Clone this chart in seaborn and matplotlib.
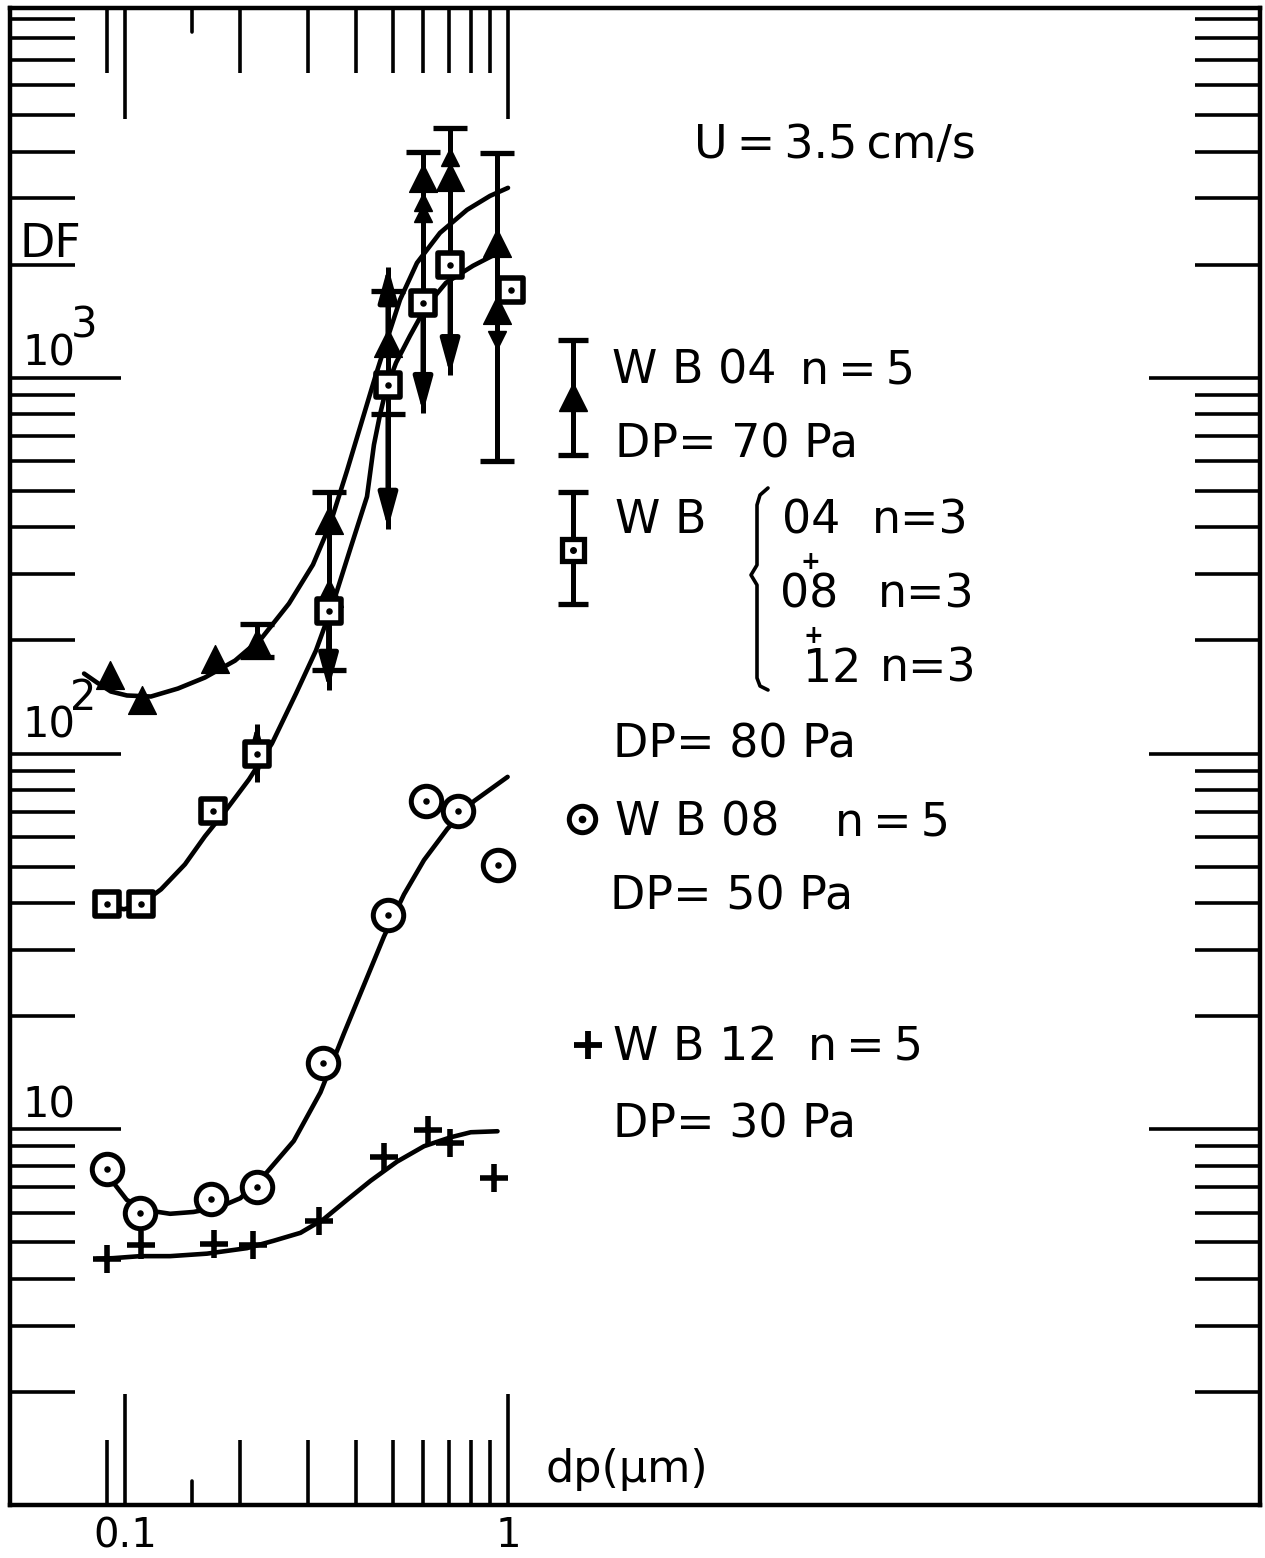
import matplotlib
matplotlib.use("Agg")
import matplotlib.pyplot as plt
import matplotlib.transforms as mtransforms
from matplotlib.ticker import FixedLocator, FixedFormatter, NullFormatter
import numpy as np
import pandas as pd
import seaborn as sns

# ---------------- data ----------------
# WB04 n=5, DP=70 Pa  (filled triangles)
tri_dp = [0.0914, 0.111, 0.172, 0.221, 0.34, 0.34, 0.486, 0.600, 0.706, 0.936, 0.936]
tri_df = [161.5, 138.6, 178.3, 196.9, 419, 268, 1239, 3404, 3428, 2286, 1517]

# WB 04/08/12 n=3, DP=80 Pa  (open squares with dot)
sq_dp = [0.0897, 0.110, 0.170, 0.221, 0.34, 0.486, 0.600, 0.706, 1.02]
sq_df = [39.7, 39.7, 70.1, 100, 240, 954, 1583, 1998, 1715]

# WB08 n=5, DP=50 Pa  (open circles with dot)
circ_dp = [0.0899, 0.1097, 0.168, 0.221, 0.329, 0.486, 0.610, 0.740, 0.939]
circ_df = [7.85, 5.98, 6.51, 7.01, 14.98, 37.2, 74.7, 70.1, 50.4]

# WB12 n=5, DP=30 Pa  (plus signs)
plus_dp = [0.0897, 0.110, 0.171, 0.216, 0.321, 0.475, 0.620, 0.706, 0.919]
plus_df = [4.52, 4.92, 4.95, 4.92, 5.71, 8.46, 9.96, 9.21, 7.41]

# hand-drawn fitted curves (nodes)
fitA_dp = [0.0782, 0.0845, 0.0919, 0.1012, 0.1169, 0.1375, 0.1617, 0.1938, 0.2279, 0.2680, 0.3096,
           0.3429, 0.3799, 0.4181, 0.4494, 0.4831, 0.5224, 0.5786, 0.6644, 0.7816, 0.8975, 1.0]
fitA_df = [163.2, 154.5, 146.2, 142.7, 141.8, 148.9, 159.3, 176.7, 203.4, 250.6, 318.1,
           406.4, 565.6, 782.8, 1000, 1262, 1612, 2022, 2430, 2798, 3048, 3202]

fitB_dp = [0.0897, 0.0994, 0.1101, 0.1242, 0.1434, 0.1617, 0.1824, 0.2107, 0.2419, 0.2796, 0.3152,
           0.3492, 0.3869, 0.4284, 0.4467, 0.4632, 0.4802, 0.5101, 0.5547, 0.6107, 0.6886, 0.8102, 0.9530]
fitB_df = [39.4, 38.5, 39.7, 43.5, 50.7, 60.2, 70.1, 85.3, 106.3, 144.4, 187.9,
           250.6, 348.8, 482.6, 663.4, 797.1, 929.1, 1096, 1293, 1545, 1789, 1986, 2163]

fitC_dp = [0.0932, 0.1011, 0.1140, 0.1312, 0.1510, 0.1773, 0.2001, 0.2348, 0.2759, 0.3239, 0.3731,
           0.4207, 0.4746, 0.5352, 0.6036, 0.6948, 0.8150, 0.9977]
fitC_df = [7.216, 6.486, 6.090, 5.957, 6.024, 6.219, 6.554, 7.687, 9.309, 12.54, 18.00,
           24.21, 32.61, 42.17, 52.05, 63.04, 74.71, 86.66]

fitD_dp = [0.0844, 0.0932, 0.1096, 0.1312, 0.1637, 0.2082, 0.2446, 0.2872, 0.3306, 0.3799, 0.4378,
           0.5131, 0.6036, 0.7091, 0.7996, 0.9389]
fitD_df = [4.520, 4.539, 4.595, 4.595, 4.666, 4.826, 5.050, 5.301, 5.769, 6.486, 7.292,
           8.199, 9.013, 9.522, 9.818, 9.879]

# vertical ranges (error bars) with their cap ends and arrow ends
bar_dp = [0.221, 0.221, 0.34, 0.486, 0.600, 0.706, 0.936]
bar_lo = [181, 84, 148, 397, 807, 1018, 600]
bar_hi = [221, 120, 496, 1977, 3977, 4624, 3963]
cap_dp = [0.221, 0.221, 0.34, 0.34, 0.486, 0.486, 0.600, 0.706, 0.936, 0.936]
cap_df = [221, 181, 496, 167, 1699, 799, 3977, 4624, 3963, 600]
arr_dp = [0.221, 0.34, 0.486, 0.600, 0.706, 0.221, 0.486]
arr_tip = [84, 148, 397, 807, 1018, 120, 1977]
arr_base = [100, 240, 799, 1583, 1998, 100, 1239]
uphead_dp = [0.600, 0.600, 0.706]
uphead_df = [2938, 2740, 3873]
downhead_dp = [0.936]
downhead_df = [1262]

x_major = [0.1, 1.0]
x_major_labels = ["0.1", "1"]
x_minor = [0.09, 0.2, 0.3, 0.4, 0.5, 0.6, 0.7, 0.8, 0.9]
x_short = [0.15]
y_major = [1, 10, 100, 1000, 10000]
y_minor = [m * d for d in (1, 10, 100, 1000) for m in range(2, 10)]

# ---------------- figure ----------------
sns.set_style("ticks")
plt.rcParams['font.family'] = ['DejaVu Sans']

W, H = 1265, 1558
fig = plt.figure(figsize=(W / 100, H / 100), dpi=100)
fig.patch.set_facecolor('white')
ax = fig.add_axes([10 / W, (H - 1505) / H, 1250 / W, 1497 / H])
ax.set_xscale('log')
ax.set_yscale('log')
K = 'black'


def fx(px):
    return (px - 10) / 1250.0


def fy(py):
    return (1505 - py) / 1497.0


# curves
for xs, ys in [(fitA_dp, fitA_df), (fitB_dp, fitB_df), (fitC_dp, fitC_df), (fitD_dp, fitD_df)]:
    d = pd.DataFrame({"dp": xs, "DF": ys})
    sns.lineplot(data=d, x="dp", y="DF", ax=ax, color=K, lw=3.3, sort=False,
                 estimator=None, zorder=2)
for ln in ax.get_lines():
    ln.set_solid_joinstyle('round')
    ln.set_solid_capstyle('round')

# error bars
ax.vlines(bar_dp, bar_lo, bar_hi, colors=K, lw=3.6, zorder=3)
ax.plot(cap_dp, cap_df, ls='none', marker='_', ms=24, mew=3.8, color=K, zorder=3)
for x, tip, base in zip(arr_dp, arr_tip, arr_base):
    ax.annotate("", xy=(x, tip), xytext=(x, base),
                arrowprops=dict(arrowstyle="-|>,head_length=0.8,head_width=0.22",
                                mutation_scale=26, lw=3.6, color=K,
                                shrinkA=0, shrinkB=0), zorder=3)
ax.plot(uphead_dp, uphead_df, ls='none', marker='^', ms=13, color=K, zorder=3)
ax.plot(downhead_dp, downhead_df, ls='none', marker='v', ms=13, color=K, zorder=3)

# markers
sns.scatterplot(x=tri_dp, y=tri_df, ax=ax, marker='^', s=400, color=K,
                edgecolor=K, linewidth=1, zorder=5)
sns.scatterplot(x=sq_dp, y=sq_df, ax=ax, marker='s', s=310, color='white',
                edgecolor=K, linewidth=4.0, zorder=5)
sns.scatterplot(x=sq_dp, y=sq_df, ax=ax, marker='o', s=22, color=K,
                linewidth=0, zorder=6)
sns.scatterplot(x=circ_dp, y=circ_df, ax=ax, marker='o', s=480, color='white',
                edgecolor=K, linewidth=3.6, zorder=5)
sns.scatterplot(x=circ_dp, y=circ_df, ax=ax, marker='o', s=22, color=K,
                linewidth=0, zorder=6)
sns.scatterplot(x=plus_dp, y=plus_df, ax=ax, marker='+', s=400, color=K,
                linewidth=4.0, zorder=5)

ax.set_xlim(0.0501, 91.9)
ax.set_ylim(1.0, 9640)
ax.set_xlabel("")
ax.set_ylabel("")

# ticks
ax.xaxis.set_major_locator(FixedLocator(x_major))
ax.xaxis.set_major_formatter(FixedFormatter(x_major_labels))
ax.xaxis.set_minor_locator(FixedLocator(x_minor))
ax.xaxis.set_minor_formatter(NullFormatter())
ax.yaxis.set_major_locator(FixedLocator(y_major))
ax.yaxis.set_minor_locator(FixedLocator(y_minor))
ax.yaxis.set_major_formatter(NullFormatter())
ax.yaxis.set_minor_formatter(NullFormatter())
ax.tick_params(which='both', direction='in', top=True, right=True, bottom=True,
               left=True, width=2.6, color=K)
ax.tick_params(which='major', length=80)
ax.tick_params(which='minor', length=47)
ax.tick_params(axis='x', which='major', labelsize=29, pad=8, labelcolor=K)
for s in ax.spines.values():
    s.set_linewidth(3.2)
    s.set_color(K)

trans = mtransforms.blended_transform_factory(ax.transData, ax.transAxes)
for xv in x_short:
    ax.plot([xv, xv], [0, 24 / 1497], transform=trans, color=K, lw=2.6, clip_on=False)
    ax.plot([xv, xv], [1 - 24 / 1497, 1], transform=trans, color=K, lw=2.6, clip_on=False)

# axis annotations
T = ax.transAxes
FS = 33
ax.text(fx(20), fy(257), "DF", transform=T, fontsize=FS, color=K)
ax.text(fx(22), fy(366), "10", transform=T, fontsize=30, color=K)
ax.text(fx(71), fy(338), "3", transform=T, fontsize=30, color=K)
ax.text(fx(22), fy(737), "10", transform=T, fontsize=30, color=K)
ax.text(fx(70), fy(710), "2", transform=T, fontsize=30, color=K)
ax.text(fx(22), fy(1118), "10", transform=T, fontsize=30, color=K)
ax.text(fx(545), fy(1482), "dp(\u03bcm)", transform=T, fontsize=32, color=K)
ax.text(fx(694), fy(158), "U\u2009=\u20093.5\u2009cm/s", transform=T, fontsize=FS, color=K)

# legend glyphs
gx = fx(573)
ax.plot([gx, gx], [fy(455), fy(340)], transform=T, color=K, lw=3.6)
ax.plot([gx, gx], [fy(455), fy(340)], transform=T, ls='none', marker='_', ms=22, mew=3.8, color=K)
ax.plot([gx], [fy(397)], transform=T, marker='^', ms=20, color=K)
ax.plot([gx, gx], [fy(604), fy(492)], transform=T, color=K, lw=3.6)
ax.plot([gx, gx], [fy(604), fy(492)], transform=T, ls='none', marker='_', ms=22, mew=3.8, color=K)
ax.plot([gx], [fy(550)], transform=T, marker='s', ms=16, mfc='white', mec=K, mew=3.8)
ax.plot([gx], [fy(550)], transform=T, marker='o', ms=4, color=K)
ax.plot([fx(582)], [fy(819)], transform=T, marker='o', ms=19, mfc='white', mec=K, mew=3.6)
ax.plot([fx(582)], [fy(819)], transform=T, marker='o', ms=4.5, color=K)
ax.plot([fx(588)], [fy(1045)], transform=T, marker='+', ms=20, mew=4.2, color=K)

# brace
brace_px = [(768, 488), (760, 495), (757, 505), (757, 565), (751, 575), (757, 585),
            (757, 678), (760, 686), (768, 690)]
ax.plot([fx(p[0]) for p in brace_px], [fy(p[1]) for p in brace_px], transform=T,
        color=K, lw=2.6, solid_capstyle='round', solid_joinstyle='round')

legend_txt = [
    ("W B 04", 612, 383), ("n\u2009=\u20095", 800, 383),
    ("DP= 70 Pa", 615, 458),
    ("W B", 615, 533),
    ("04", 782, 533), ("n=3", 872, 533),
    ("08", 780, 608), ("n=3", 878, 608),
    ("12", 803, 682), ("n=3", 880, 682),
    ("DP= 80 Pa", 613, 758),
    ("W B 08", 615, 835), ("n\u2009=\u20095", 835, 835),
    ("DP= 50 Pa", 610, 910),
    ("W B 12", 613, 1060), ("n\u2009=\u20095", 808, 1060),
    ("DP= 30 Pa", 613, 1137),
]
for s, px, py in legend_txt:
    ax.text(fx(px), fy(py), s, transform=T, fontsize=FS, color=K)
for px, py in [(810, 562), (813, 636)]:
    ax.text(fx(px), fy(py), "+", transform=T, fontsize=17, fontweight='bold',
            color=K, ha='center', va='center')

fig.savefig("out.png", dpi=100, facecolor='white')
